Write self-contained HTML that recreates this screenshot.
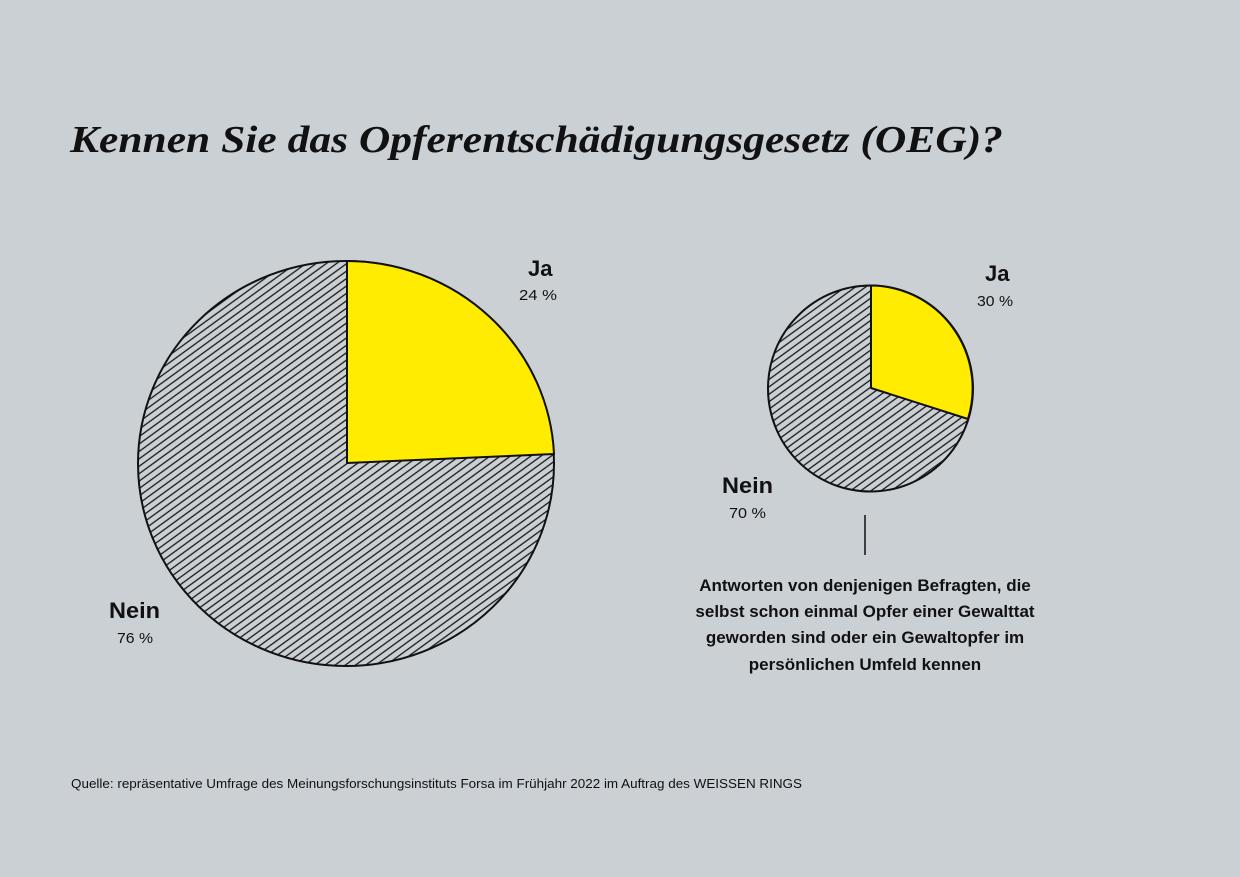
<!DOCTYPE html>
<html><head><meta charset="utf-8"><style>
html,body{margin:0;padding:0;background:#cbd0d5;}
svg{display:block;}
text{font-family:"Liberation Sans",sans-serif;fill:#111;}
</style></head><body>
<svg width="1240" height="877" viewBox="0 0 1240 877" xmlns="http://www.w3.org/2000/svg">
<defs>
<pattern id="h" patternUnits="userSpaceOnUse" width="20" height="6" patternTransform="rotate(-36)">
<rect width="20" height="6" fill="#cbd0d5"/>
<line x1="0" y1="3" x2="20" y2="3" stroke="#111" stroke-width="1.25"/>
</pattern>
</defs>
<rect width="1240" height="877" fill="#cbd0d5"/>
<text x="70" y="152" font-style="italic" font-weight="bold" font-size="38" textLength="933" lengthAdjust="spacingAndGlyphs" style="font-family:'Liberation Serif',serif">Kennen Sie das Opferentschädigungsgesetz (OEG)?</text>

<ellipse cx="346" cy="463.5" rx="208" ry="202.5" fill="url(#h)" stroke="#111" stroke-width="2"/>
<path d="M347,463 L347,261 A208,202.5 0 0 1 554,454 Z" fill="#ffec00" stroke="#111" stroke-width="2" stroke-linejoin="round"/>
<text x="528" y="276" font-weight="bold" font-size="22">Ja</text>
<text x="519" y="300" font-size="15" textLength="38" lengthAdjust="spacingAndGlyphs">24 %</text>
<text x="109" y="618" font-weight="bold" font-size="22" textLength="51" lengthAdjust="spacingAndGlyphs">Nein</text>
<text x="117" y="643" font-size="15" textLength="36" lengthAdjust="spacingAndGlyphs">76 %</text>

<ellipse cx="870.5" cy="388.5" rx="102.5" ry="103" fill="url(#h)" stroke="#111" stroke-width="2"/>
<path d="M871,388 L871,285.5 A102.5,103 0 0 1 968,419 Z" fill="#ffec00" stroke="#111" stroke-width="2" stroke-linejoin="round"/>
<text x="985" y="281" font-weight="bold" font-size="22">Ja</text>
<text x="977" y="306" font-size="15" textLength="36" lengthAdjust="spacingAndGlyphs">30 %</text>
<text x="722" y="493" font-weight="bold" font-size="22" textLength="51" lengthAdjust="spacingAndGlyphs">Nein</text>
<text x="729" y="518" font-size="15" textLength="37" lengthAdjust="spacingAndGlyphs">70 %</text>
<line x1="865" y1="515" x2="865" y2="555" stroke="#111" stroke-width="1.5"/>
<g font-weight="bold" font-size="17" text-anchor="middle">
<text x="865" y="591">Antworten von denjenigen Befragten, die</text>
<text x="865" y="617">selbst schon einmal Opfer einer Gewalttat</text>
<text x="865" y="643">geworden sind oder ein Gewaltopfer im</text>
<text x="865" y="670">persönlichen Umfeld kennen</text>
</g>
<text x="71" y="788" font-size="12.5" textLength="731" lengthAdjust="spacingAndGlyphs">Quelle: repräsentative Umfrage des Meinungsforschungsinstituts Forsa im Frühjahr 2022 im Auftrag des WEISSEN RINGS</text>
</svg>
</body></html>
